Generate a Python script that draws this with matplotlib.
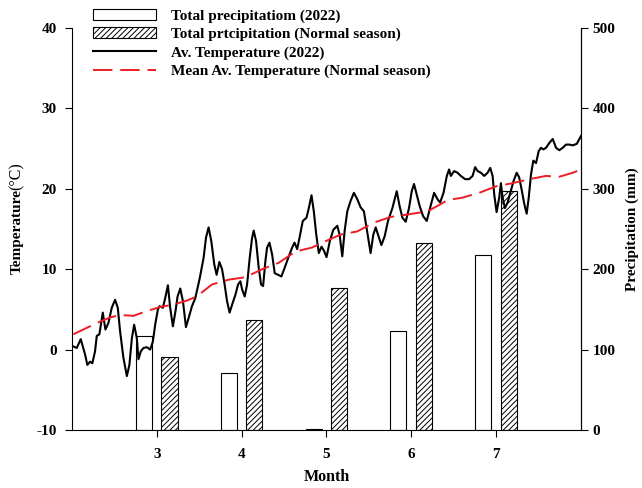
import matplotlib
matplotlib.use("Agg")
import matplotlib.pyplot as plt

plt.rcParams['font.family'] = ['Liberation Serif', 'DejaVu Serif']
plt.rcParams['font.weight'] = 'bold'
plt.rcParams['axes.unicode_minus'] = False
plt.rcParams['hatch.linewidth'] = 0.7
plt.rcParams['hatch.color'] = '#333333'

# Monthly precipitation (mm)
months = [3, 4, 5, 6, 7]
precip_2022 = [117, 71, 1, 123, 218]
precip_normal = [91, 137, 176, 232, 297]

# Daily average temperature 2022 (x in months, T in degC)
temp_x = [2.015, 2.056, 2.103, 2.154, 2.181, 2.213, 2.240, 2.272, 2.292, 2.323,
          2.363, 2.394, 2.429, 2.469, 2.508, 2.540, 2.567, 2.606, 2.647, 2.677,
          2.706, 2.733, 2.765, 2.784, 2.812, 2.843, 2.883, 2.922, 2.954, 2.981,
          3.013, 3.032, 3.072, 3.099, 3.131, 3.158, 3.190, 3.221, 3.245, 3.277,
          3.309, 3.344, 3.375, 3.415, 3.454, 3.505, 3.552, 3.580, 3.611, 3.643,
          3.678, 3.706, 3.738, 3.770, 3.800, 3.829, 3.859, 3.895, 3.927, 3.959,
          3.986, 4.006, 4.037, 4.065, 4.096, 4.124, 4.143, 4.171, 4.202, 4.230,
          4.254, 4.281, 4.301, 4.329, 4.361, 4.391, 4.431, 4.470, 4.509, 4.550,
          4.597, 4.624, 4.656, 4.687, 4.722, 4.766, 4.793, 4.825, 4.852, 4.881,
          4.911, 4.943, 4.972, 5.002, 5.041, 5.082, 5.129, 5.156, 5.188, 5.215,
          5.247, 5.286, 5.325, 5.365, 5.404, 5.443, 5.475, 5.522, 5.554, 5.582,
          5.609, 5.649, 5.688, 5.727, 5.779, 5.830, 5.865, 5.897, 5.936, 5.975,
          6.007, 6.034, 6.066, 6.102, 6.141, 6.184, 6.223, 6.271, 6.311, 6.342,
          6.382, 6.421, 6.448, 6.468, 6.507, 6.547, 6.586, 6.637, 6.684, 6.725,
          6.755, 6.784, 6.823, 6.862, 6.902, 6.933, 6.961, 6.980, 7.008, 7.039,
          7.059, 7.079, 7.106, 7.138, 7.169, 7.209, 7.245, 7.275, 7.307, 7.335,
          7.363, 7.387, 7.414, 7.441, 7.473, 7.505, 7.532, 7.559, 7.591, 7.630,
          7.670, 7.709, 7.748, 7.788, 7.827, 7.866, 7.907, 7.954, 7.985, 8.005]
temp_2022 = [0.4, 0.2, 1.3, -0.6, -1.9, -1.5, -1.7, -0.2, 1.7, 1.9,
             4.6, 2.5, 3.3, 5.2, 6.2, 5.2, 2.3, -1.0, -3.3, -1.9,
             1.4, 3.1, 1.4, -1.2, -0.2, 0.2, 0.3, 0.0, 1.0, 3.1,
             5.0, 5.4, 5.2, 6.4, 8.0, 5.2, 2.9, 4.8, 6.6, 7.6,
             6.0, 2.8, 3.9, 5.4, 6.4, 8.8, 11.4, 13.9, 15.2, 13.5,
             10.6, 9.3, 10.9, 10.0, 8.1, 6.0, 4.6, 5.8, 6.8, 8.1,
             8.5, 7.5, 6.6, 8.1, 11.4, 13.9, 14.8, 13.5, 10.2, 8.1,
             7.9, 11.0, 12.7, 13.3, 11.8, 9.5, 9.3, 9.1, 10.2, 11.4,
             12.7, 13.3, 12.5, 14.1, 16.0, 16.4, 17.6, 19.2, 17.2, 14.3,
             12.0, 12.8, 12.3, 11.5, 13.5, 14.9, 15.4, 14.3, 11.6, 14.7,
             17.2, 18.5, 19.5, 18.7, 17.7, 17.2, 15.1, 12.0, 14.3, 15.2,
             14.3, 13.0, 14.1, 16.0, 17.6, 19.7, 17.8, 16.4, 15.9, 17.6,
             19.7, 20.6, 19.3, 17.8, 16.6, 16.0, 17.6, 19.5, 18.7, 18.3,
             19.5, 21.6, 22.4, 21.6, 22.2, 22.0, 21.6, 21.2, 21.2, 21.6,
             22.7, 22.2, 22.0, 21.6, 22.0, 22.6, 21.6, 19.3, 17.1, 18.9,
             20.7, 18.9, 17.6, 18.3, 19.5, 21.0, 22.0, 21.4, 19.7, 18.1,
             16.9, 18.9, 21.8, 23.5, 23.2, 24.7, 25.1, 24.9, 25.1, 25.7,
             26.2, 25.1, 24.8, 25.1, 25.5, 25.5, 25.4, 25.6, 26.2, 26.6]

# Mean average temperature (normal season)
mean_x = [2.015, 2.134, 2.292, 2.449, 2.567, 2.725, 2.883, 3.040, 3.197, 3.356,
          3.470, 3.651, 3.848, 4.045, 4.242, 4.439, 4.636, 4.833, 4.950, 5.168,
          5.365, 5.561, 5.759, 5.956, 6.193, 6.350, 6.430, 6.606, 6.803, 7.000,
          7.197, 7.394, 7.591, 7.748, 7.907, 8.005]
mean_temp = [1.9, 2.5, 3.3, 4.0, 4.3, 4.2, 4.8, 5.3, 5.6, 6.1,
             6.6, 8.1, 8.7, 9.0, 10.0, 10.8, 12.2, 12.7, 13.3, 14.3,
             14.7, 15.8, 16.5, 16.8, 17.2, 18.1, 18.6, 18.9, 19.5, 20.3,
             20.7, 21.2, 21.6, 21.5, 22.0, 22.4]

fig = plt.figure(figsize=(6.42, 4.88), dpi=100)
ax = fig.add_axes([72/642, 58/488, (580.7-72)/642, (430-28)/488])
ax2 = ax.twinx()

bw = 0.19
off = 0.15
b1 = ax2.bar([m - off for m in months], precip_2022, width=bw, facecolor='white',
             edgecolor='black', linewidth=0.8, label='Total precipitatiom (2022)')
b2 = ax2.bar([m + off for m in months], precip_normal, width=bw, facecolor='white',
             edgecolor='black', linewidth=0.8, hatch='//////',
             label='Total prtcipitation (Normal season)')

l1, = ax.plot(temp_x, temp_2022, color='black', linewidth=1.5, label='Av. Temperature (2022)')
l2, = ax.plot(mean_x, mean_temp, color='#ee1c24', linewidth=1.4, dashes=(10, 4),
              label='Mean Av. Temperature (Normal season)')

ax.set_zorder(ax2.get_zorder() + 1)
ax.patch.set_visible(False)

ax.set_xlim(2, 8)
ax.set_ylim(-10, 40)
ax2.set_ylim(0, 500)
ax.set_xticks(months)
ax.set_yticks([-10, 0, 10, 20, 30, 40])
ax2.set_yticks([0, 100, 200, 300, 400, 500])

for a in (ax, ax2):
    a.spines['top'].set_visible(False)
    a.tick_params(direction='out', length=5, width=0.8, labelsize=11)
    for lab in a.get_xticklabels() + a.get_yticklabels():
        lab.set_fontweight('bold')
ax.tick_params(axis='x', pad=8)
ax.tick_params(axis='y', pad=6)
ax2.tick_params(axis='y', pad=3.5)
ax2.spines['left'].set_visible(False)
ax2.spines['bottom'].set_visible(False)

ax.set_xlabel('Month', fontsize=11.5, fontweight='bold', labelpad=6)
ax2.set_ylabel('Precipitation (mm)', fontsize=11, fontweight='bold', labelpad=7)

fig.text(17/642, 1 - 274/488, 'Temperature', rotation=90, ha='center', va='bottom',
         fontsize=11, fontweight='bold')
fig.text(17/642, 1 - 190/488, '(°C)', rotation=90, ha='center', va='bottom',
         fontsize=11.5, fontweight='normal')

fig.legend(handles=[b1, b2, l1, l2], loc='upper left',
           bbox_to_anchor=(93/642, 1 - 9/488), bbox_transform=fig.transFigure,
           frameon=False, borderpad=0, borderaxespad=0, handlelength=4.1,
           handletextpad=1.0, labelspacing=0.3, prop={'size': 11, 'weight': 'bold'})

fig.savefig('out.png', dpi=100)
